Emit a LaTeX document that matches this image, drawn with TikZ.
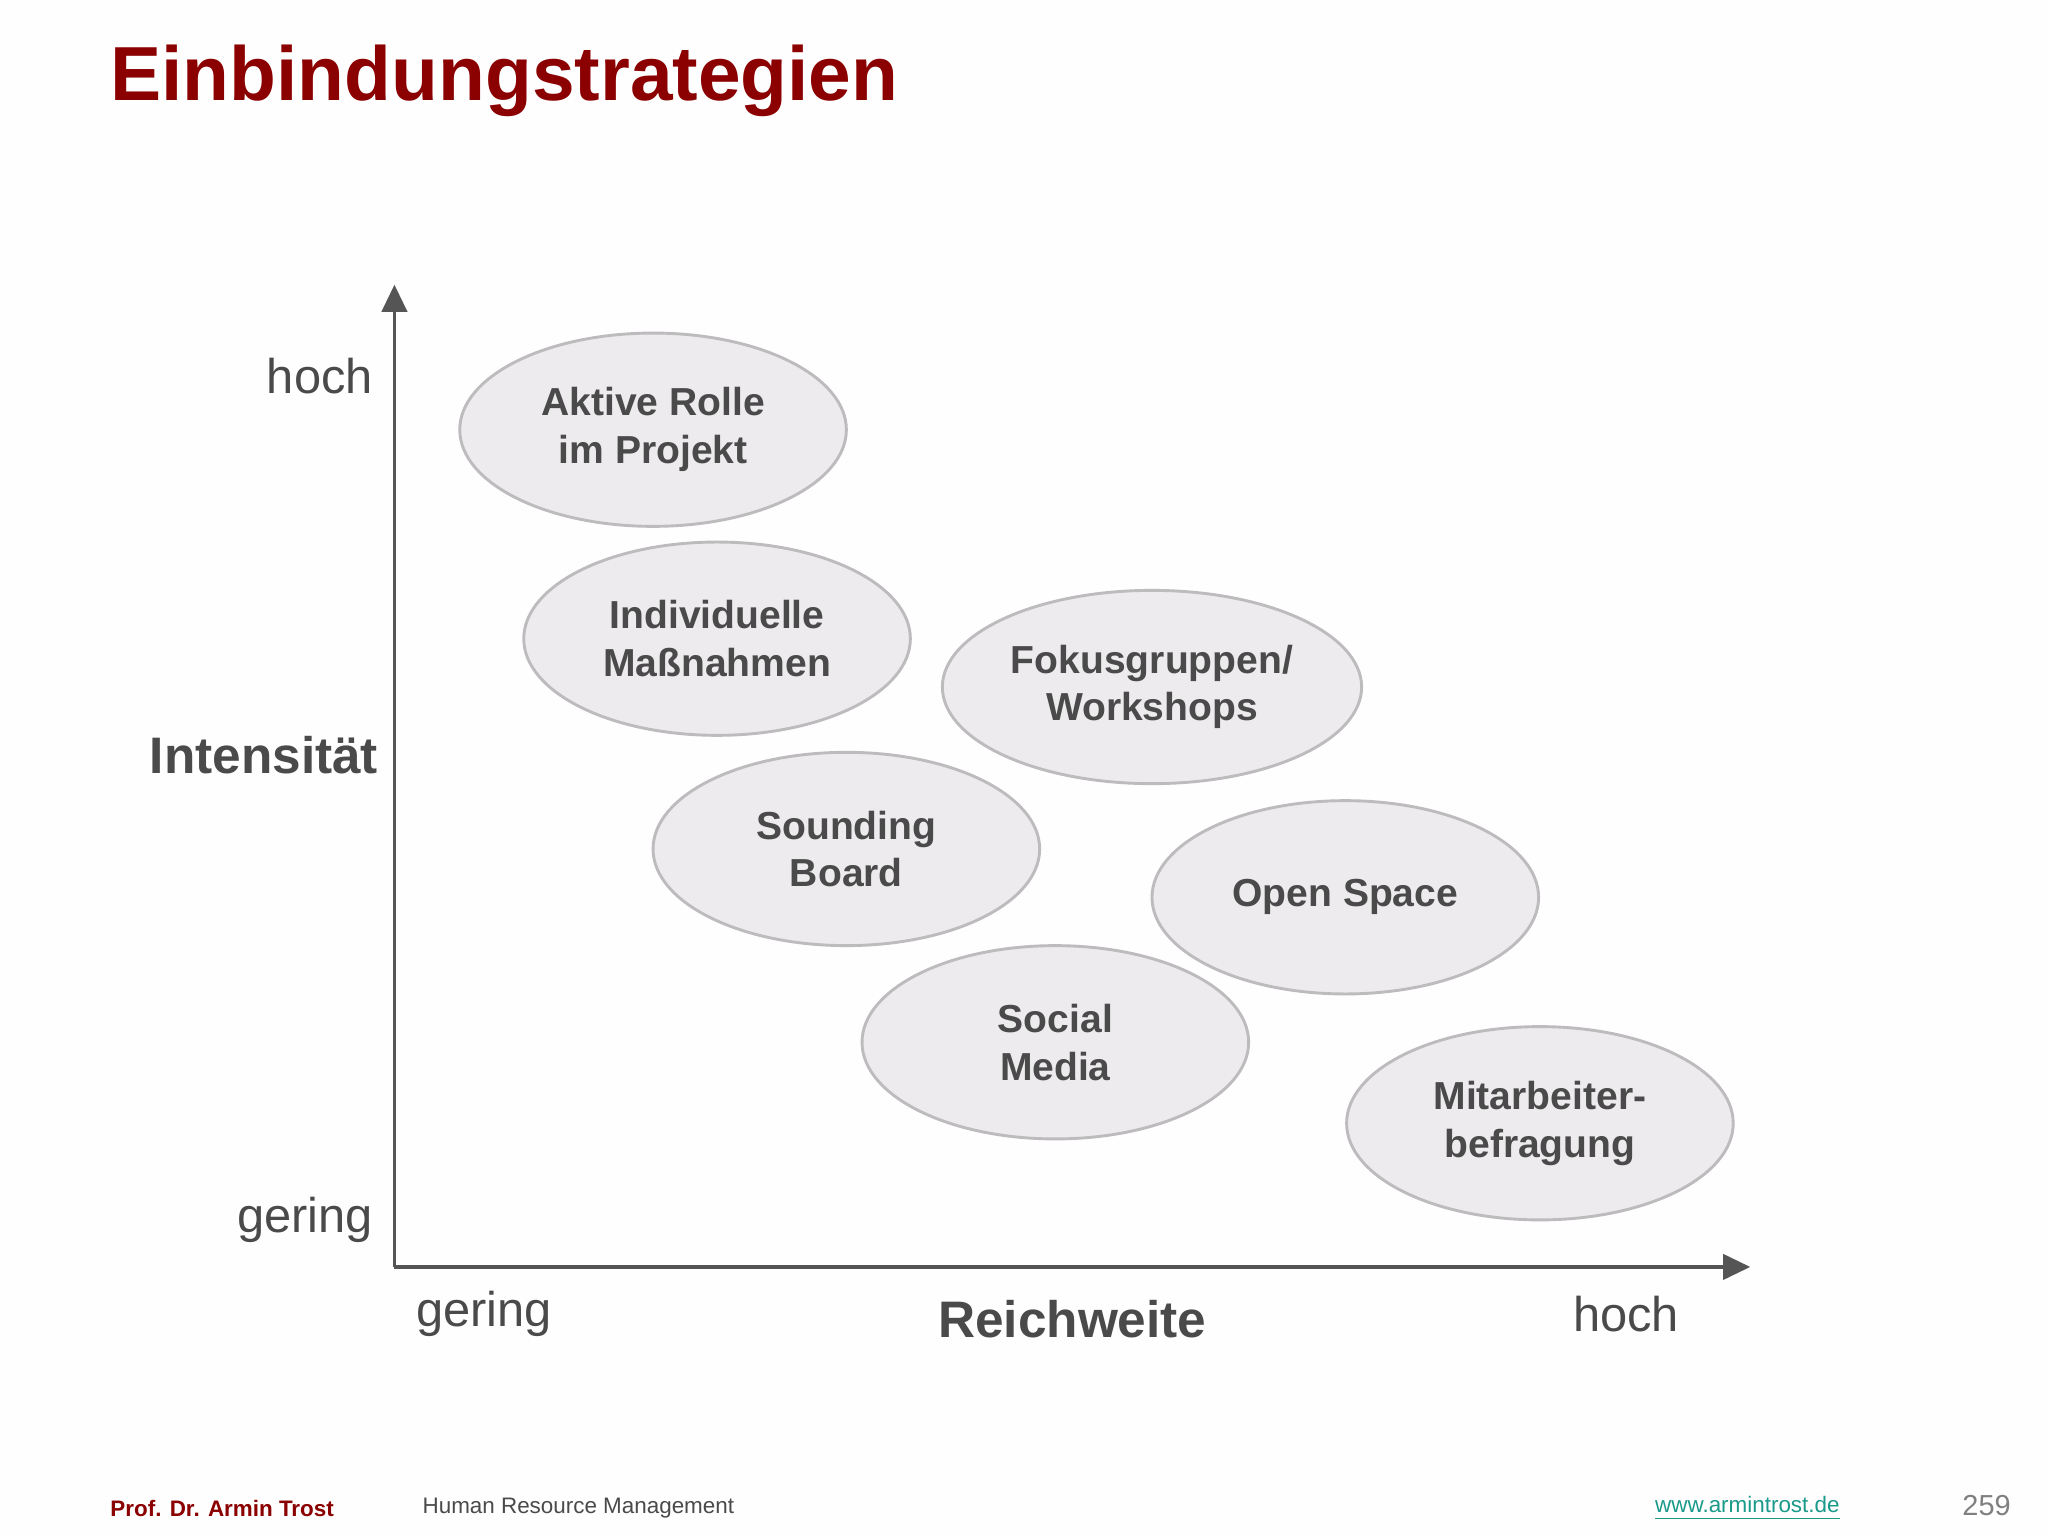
\documentclass[tikz,border=0pt]{standalone}
\usepackage{fontspec}
\setmainfont{Liberation Sans}
\usetikzlibrary{shapes.geometric,arrows.meta}
\definecolor{titlered}{HTML}{8B0000}
\definecolor{txt}{HTML}{4A4A4A}
\definecolor{axis}{HTML}{555555}
\definecolor{efill}{HTML}{EDEBED}
\definecolor{edraw}{HTML}{BDBBBD}
\definecolor{link}{HTML}{1A9A8A}
\begin{document}
\begin{tikzpicture}[x=0.0127cm,y=-0.0127cm,
  bub/.style={ellipse,draw=edraw,fill=efill,line width=0.8pt,minimum width=296*0.0127cm,minimum height=148*0.0127cm,inner sep=0pt,align=center,text=txt,font=\fontsize{10.8}{13.2}\selectfont\bfseries},
  lab/.style={text=txt,font=\fontsize{13.5}{16}\selectfont,inner sep=0pt},
  blab/.style={text=txt,font=\fontsize{14.2}{16}\selectfont\bfseries,inner sep=0pt},
  foot/.style={font=\fontsize{6.2}{7}\selectfont,inner sep=0pt}]
\fill[white!99!gray] (0,0) rectangle (1568,1176);
\node[anchor=west,text=titlered,font=\fontsize{21.2}{24}\selectfont\bfseries,inner sep=0pt] (title) at (84,62) {Einbindungstrategien};
\coordinate (o) at (302,970);
\coordinate (ytop) at (302,218);
\coordinate (xend) at (1340,970);
\draw[axis,line width=0.9pt,-{Triangle[length=7.5pt,width=7pt]}] (o) -- (ytop);
\draw[axis,line width=0.9pt,-{Triangle[length=7.5pt,width=7pt]}] (o) -- (xend);
\node[lab,anchor=east] (yh) at (286,288) {hoch};
\node[blab,anchor=east] (yi) at (290,578) {Intensität};
\node[lab,anchor=east] (yg) at (286,934) {gering};
\node[lab,anchor=west] (xg) at (318,1006) {gering};
\node[blab] (xr) at (821,1010) {Reichweite};
\node[lab,anchor=east] (xh) at (1286,1006) {hoch};
\node[bub] (a) at (500,329) {Aktive Rolle\\im Projekt};
\node[bub] (b) at (549,489) {Individuelle\\Maßnahmen};
\node[bub,minimum width=321*0.0127cm] (c) at (882,526) {Fokusgruppen/\\Workshops};
\node[bub] (d) at (648,650) {Sounding\\Board};
\node[bub] (e) at (1030,687) {Open Space};
\node[bub] (f) at (808,798) {Social\\Media};
\node[bub] (g) at (1179,860) {Mitarbeiter-\\befragung};
\node[foot,anchor=west,text=titlered,font=\fontsize{6.2}{7}\selectfont\bfseries] (f1) at (84,1155) {Prof. Dr. Armin Trost};
\node[foot,anchor=west,text=txt] (f2) at (323,1155) {Human Resource Management};
\node[foot,anchor=east,text=link] (f3) at (1409,1155) {\underline{www.armintrost.de}};
\node[foot,anchor=east,text=gray,font=\fontsize{8}{9}\selectfont] (f4) at (1540,1153) {259};
\end{tikzpicture}
\end{document}
